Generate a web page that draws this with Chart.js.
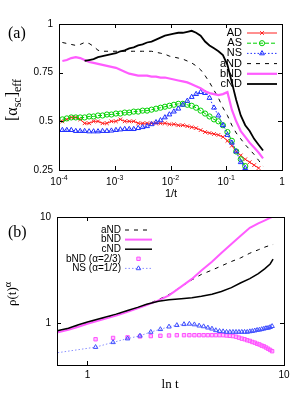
<!DOCTYPE html>
<html>
<head>
<meta charset="utf-8">
<script src="https://cdn.jsdelivr.net/npm/chart.js@4.4.0/dist/chart.umd.min.js"></script>
<style>
  html, body { margin: 0; padding: 0; background: #fff; }
  #wrap { position: relative; width: 301px; height: 399px; }
  #ca { position: absolute; left: 0; top: 0; }
  #cb { position: absolute; left: 0; top: 200px; }
</style>
</head>
<body>
<div id="wrap">
  <canvas id="ca" width="301" height="200" style="width:301px;height:200px"></canvas>
  <canvas id="cb" width="301" height="199" style="width:301px;height:199px"></canvas>
</div>
<script>
// ---- panel (a): effective exponent vs 1/t ----
const invT = [1.15e-4, 1.38e-4, 1.66e-4, 2.00e-4, 2.40e-4, 2.88e-4, 3.47e-4, 4.17e-4, 5.01e-4, 6.03e-4,
  7.24e-4, 8.71e-4, 1.05e-3, 1.26e-3, 1.51e-3, 1.82e-3, 2.19e-3, 2.63e-3, 3.16e-3, 3.80e-3,
  4.57e-3, 5.50e-3, 6.61e-3, 7.94e-3, 9.55e-3, 1.15e-2, 1.38e-2, 1.66e-2, 2.00e-2, 2.40e-2,
  2.88e-2, 3.47e-2, 4.17e-2, 5.01e-2, 6.03e-2, 7.24e-2, 8.71e-2, 0.105, 0.126, 0.151,
  0.182, 0.219, 0.263, 0.316, 0.380, 0.457];
const AD = [0.50, 0.51, 0.52, 0.52, 0.51, 0.49, 0.49, 0.50, 0.50, 0.49, 0.49, 0.50,
  0.50, 0.51, 0.50, 0.50, 0.50, 0.49, 0.49, 0.49, 0.49, 0.49, 0.49, 0.49,
  0.485, 0.485, 0.48, 0.48, 0.475, 0.47, 0.465, 0.455, 0.445, 0.44, 0.435, 0.43,
  0.42, 0.40, 0.375, 0.345, 0.325, 0.305, 0.29, 0.275, 0.26, null];
const AS = [0.51, 0.515, 0.52, 0.52, 0.52, 0.52, 0.525, 0.525, 0.53, 0.53, 0.535, 0.535,
  0.54, 0.54, 0.545, 0.545, 0.55, 0.55, 0.555, 0.555, 0.56, 0.565, 0.57, 0.575,
  0.58, 0.585, 0.59, 0.59, 0.585, 0.58, 0.57, 0.555, 0.54, 0.525, 0.51, 0.50,
  0.48, 0.445, 0.40, 0.345, 0.305, 0.27, null, null, null, null];
const NS = [0.455, 0.455, 0.455, 0.45, 0.45, 0.45, 0.448, 0.448, 0.448, 0.45, 0.45, 0.452,
  0.455, 0.458, 0.46, 0.46, 0.46, 0.465, 0.47, 0.475, 0.485, 0.495, 0.505, 0.52,
  0.535, 0.55, 0.565, 0.585, 0.605, 0.625, 0.64, 0.65, 0.645, 0.62, 0.57, 0.53,
  0.48, 0.43, 0.39, 0.345, 0.29, 0.26, null, null, null, null];
const aND = [0.905, 0.90, 0.895, 0.89, 0.895, 0.905, 0.90, 0.885, 0.865, 0.86, 0.86, 0.86,
  0.86, 0.86, 0.86, 0.86, 0.86, 0.86, 0.86, 0.86, 0.86, 0.855, 0.85, 0.845,
  0.835, 0.83, 0.825, 0.82, 0.81, 0.80, 0.785, 0.765, 0.735, 0.70, 0.66, 0.62,
  0.57, 0.53, 0.48, 0.44, 0.41, 0.38, 0.355, 0.33, 0.30, 0.27];
const bND = [0.81, 0.815, 0.825, 0.83, 0.825, 0.815, 0.805, 0.80, 0.795, 0.79, 0.785, 0.78,
  0.775, 0.765, 0.755, 0.745, 0.74, 0.735, 0.735, 0.735, 0.73, 0.73, 0.725, 0.725,
  0.72, 0.715, 0.71, 0.705, 0.70, 0.69, 0.68, 0.67, 0.655, 0.645, 0.64, 0.635,
  0.64, 0.65, 0.56, 0.50, 0.45, 0.42, 0.39, 0.365, 0.34, 0.31];
const cND = [null, null, null, null, null, 0.81, 0.815, 0.82, 0.83, 0.835, 0.84, 0.845,
  0.85, 0.86, 0.865, 0.875, 0.88, 0.89, 0.895, 0.905, 0.91, 0.92, 0.93, 0.94,
  0.945, 0.95, 0.955, 0.955, 0.96, 0.965, 0.955, 0.94, 0.91, 0.89, 0.875, 0.86,
  0.84, 0.79, 0.70, 0.61, 0.53, 0.48, 0.45, 0.41, 0.38, 0.35];
const xTicksA = [1e-4, 1e-3, 1e-2, 1e-1, 1];
const xLabelsA = ['10^-4', '10^-3', '10^-2', '10^-1', '1'];
const yTicksA = [0.25, 0.5, 0.75, 1];
const yLabelsA = ['0.25', '0.5', '0.75', '1'];

// ---- panel (b): rho(t)^alpha vs ln t ----
const lnT = [0.7, 0.8, 0.9, 1.0, 1.2, 1.4, 1.6, 1.8, 2.0, 2.3, 2.6, 3.0, 3.4, 3.8, 4.3, 4.8,
  5.4, 6.0, 6.7, 7.4, 8.0, 8.5, 8.8];
const rhoA = [0.82, 0.87, 0.93, 0.99, 1.10, 1.20, 1.29, 1.39, 1.49, 1.66, 1.85, 2.20, 2.55, 2.87, 3.15, 3.45,
  3.80, 4.10, 4.55, 4.90, 5.20, 5.40, 5.50];
const rhoB = [0.81, 0.86, 0.92, 0.98, 1.08, 1.17, 1.27, 1.37, 1.47, 1.63, 1.82, 2.20, 2.60, 3.12, 3.78, 4.57,
  5.55, 6.60, 7.90, 8.70, 9.30, 9.80, 10.1];
const rhoC = [0.84, 0.89, 0.96, 1.02, 1.12, 1.21, 1.31, 1.40, 1.50, 1.60, 1.65, 1.69, 1.73, 1.78, 1.86, 1.98,
  2.15, 2.38, 2.62, 2.92, 3.25, 3.60, 4.00];
const lnTm = [0.6, 1.1, 1.35, 1.6, 1.85, 2.1, 2.35, 2.6, 2.85, 3.1, 3.3, 3.5, 3.7, 3.9, 4.1, 4.3, 4.5,
  4.7, 4.9, 5.1, 5.3, 5.5, 5.7, 5.9, 6.1, 6.3, 6.5, 6.7, 6.9, 7.1, 7.3, 7.5, 7.7, 7.9, 8.1, 8.3, 8.5, 8.7];
const rhoBm = [null, 0.70, 0.72, 0.73, 0.745, 0.75, 0.755, 0.76, 0.765, 0.765, 0.765, 0.765, 0.765, 0.765, 0.765, 0.765, 0.765,
  0.765, 0.765, 0.76, 0.755, 0.75, 0.74, 0.725, 0.71, 0.70, 0.685, 0.675, 0.66, 0.65, 0.635, 0.625, 0.61, 0.60, 0.585, 0.57, 0.555, 0.54];
const rhoNm = [0.50, 0.59, 0.655, 0.71, 0.755, 0.82, 0.87, 0.92, 0.95, 0.97, 0.978, 0.965, 0.94, 0.925, 0.90, 0.88, 0.85,
  0.835, 0.83, 0.82, 0.82, 0.82, 0.82, 0.82, 0.82, 0.82, 0.82, 0.83, 0.835, 0.845, 0.855, 0.86, 0.87, 0.88, 0.89, 0.895, 0.91, 0.93];
const xTicksB = [1, 10];
const xLabelsB = ['1', '10'];
const yTicksB = [1, 10];
const yLabelsB = ['1', '10'];

const SANS = '"Liberation Sans", Arial, sans-serif';
const SERIF = '"Liberation Serif", "Times New Roman", serif';

function pts(xs, ys) {
  return xs.map((x, i) => ({ x: x, y: ys[i] })).filter(p => p.y !== null);
}

function labelSup(ctx, label, x, y, align) {
  const parts = label.split('^');
  ctx.font = '10px ' + SANS;
  const wb = ctx.measureText(parts[0]).width;
  let we = 0;
  if (parts[1]) { ctx.font = '7px ' + SANS; we = ctx.measureText(parts[1]).width; }
  const x0 = align === 'right' ? x - wb - we : x - (wb + we) / 2;
  ctx.textAlign = 'left';
  ctx.textBaseline = 'middle';
  ctx.font = '10px ' + SANS;
  ctx.fillText(parts[0], x0, y);
  if (parts[1]) { ctx.font = '7px ' + SANS; ctx.fillText(parts[1], x0 + wb, y - 4); }
}

function vtext(ctx, parts, cx, cy) {
  ctx.save();
  ctx.translate(cx, cy);
  ctx.rotate(-Math.PI / 2);
  ctx.textAlign = 'left';
  ctx.textBaseline = 'alphabetic';
  let w = 0;
  parts.forEach(p => { ctx.font = p.f; p.w = ctx.measureText(p.t).width; w += p.w; });
  let x = -w / 2;
  parts.forEach(p => { ctx.font = p.f; ctx.fillText(p.t, x, p.dy); x += p.w; });
  ctx.restore();
}

function decor(cfg) {
  return {
    id: 'decor',
    afterDatasetsDraw(chart) {
      const ctx = chart.ctx, a = chart.chartArea, sx = chart.scales.x, sy = chart.scales.y;
      ctx.save();
      ctx.fillStyle = '#000';
      ctx.strokeStyle = '#000';
      ctx.lineWidth = 1;
      ctx.setLineDash([]);
      ctx.strokeRect(Math.round(a.left) + 0.5, Math.round(a.top) + 0.5,
        Math.round(a.right - a.left), Math.round(a.bottom - a.top));
      ctx.beginPath();
      cfg.xTicks.forEach(v => {
        const p = Math.round(sx.getPixelForValue(v)) + 0.5;
        ctx.moveTo(p, a.bottom); ctx.lineTo(p, a.bottom - 4);
        ctx.moveTo(p, a.top); ctx.lineTo(p, a.top + 4);
      });
      cfg.yTicks.forEach(v => {
        const p = Math.round(sy.getPixelForValue(v)) + 0.5;
        ctx.moveTo(a.left, p); ctx.lineTo(a.left + 4, p);
        ctx.moveTo(a.right, p); ctx.lineTo(a.right - 4, p);
      });
      ctx.stroke();
      cfg.xTicks.forEach((v, i) => labelSup(ctx, cfg.xLabels[i], sx.getPixelForValue(v), a.bottom + cfg.xLabOff, 'center'));
      cfg.yTicks.forEach((v, i) => labelSup(ctx, cfg.yLabels[i], a.left - 6, sy.getPixelForValue(v), 'right'));

      // legend
      const L = cfg.legend;
      chart.data.datasets.forEach((ds, i) => {
        const y = L.y0 + i * L.dy;
        ctx.font = L.font;
        ctx.fillStyle = '#000';
        ctx.textAlign = 'right';
        ctx.textBaseline = 'middle';
        ctx.fillText(ds.label, L.textRight, y);
        if (ds.showLine !== false) {
          ctx.strokeStyle = ds.borderColor;
          ctx.lineWidth = ds.borderWidth;
          ctx.setLineDash(ds.borderDash || []);
          ctx.beginPath();
          ctx.moveTo(L.lineL, y); ctx.lineTo(L.lineR, y);
          ctx.stroke();
          ctx.setLineDash([]);
        }
        if (ds.pointRadius > 0) {
          ctx.strokeStyle = ds.pointBorderColor || ds.borderColor;
          ctx.fillStyle = ds.pointBackgroundColor || 'rgba(0,0,0,0)';
          ctx.lineWidth = ds.pointBorderWidth || 1;
          Chart.helpers.drawPoint(ctx, { pointStyle: ds.pointStyle, radius: ds.pointRadius, borderWidth: ds.pointBorderWidth || 1, rotation: 0 },
            (L.lineL + L.lineR) / 2, y);
        }
      });

      // titles
      ctx.fillStyle = '#000';
      cfg.texts.forEach(t => {
        ctx.font = t.f;
        ctx.textAlign = t.align || 'center';
        ctx.textBaseline = 'alphabetic';
        ctx.fillText(t.t, t.x, t.y);
      });
      if (cfg.vtitle) vtext(ctx, cfg.vtitle.parts, cfg.vtitle.x, cfg.vtitle.y);
      ctx.restore();
    }
  };
}

function lineSet(label, xs, ys, o) {
  return Object.assign({
    label: label, data: pts(xs, ys), borderColor: '#000', borderWidth: 1,
    pointRadius: 0, tension: 0, fill: false, spanGaps: false
  }, o);
}

const fixedAxes = (xType, xMin, xMax, yType, yMin, yMax, yW, xH) => ({
  x: { type: xType, min: xMin, max: xMax, ticks: { display: false }, grid: { display: false }, border: { display: false },
       afterFit: s => { s.height = xH; } },
  y: { type: yType, min: yMin, max: yMax, ticks: { display: false }, grid: { display: false }, border: { display: false },
       afterFit: s => { s.width = yW; } }
});

const RED = '#ff2020', GREEN = '#00d000', BLUE = '#2030ff', MAG = '#ff5cff';

new Chart(document.getElementById('ca').getContext('2d'), {
  type: 'line',
  data: {
    datasets: [
      lineSet('AD', invT, AD, { borderColor: RED, pointStyle: 'crossRot', pointRadius: 2.6, pointBorderWidth: 1, order: 6 }),
      lineSet('AS', invT, AS, { borderColor: GREEN, borderDash: [4, 2], pointStyle: 'circle', pointRadius: 2.6,
        pointBorderWidth: 1, pointBackgroundColor: 'rgba(0,0,0,0)', order: 5 }),
      lineSet('NS', invT, NS, { borderColor: BLUE, borderDash: [1.5, 2], pointStyle: 'triangle', pointRadius: 2.8,
        pointBorderWidth: 1, pointBackgroundColor: 'rgba(0,0,0,0)', order: 4 }),
      lineSet('aND', invT, aND, { borderColor: '#000', borderDash: [4, 5], order: 3 }),
      lineSet('bND', invT, bND, { borderColor: MAG, borderWidth: 2.2, order: 2 }),
      lineSet('cND', invT, cND, { borderColor: '#000', borderWidth: 1.8, order: 1 })
    ]
  },
  options: {
    responsive: false, animation: false, devicePixelRatio: 1,
    layout: { padding: { left: 0, top: 24, right: 19, bottom: 0 } },
    plugins: { legend: { display: false }, tooltip: { enabled: false } },
    scales: fixedAxes('logarithmic', 1e-4, 1, 'linear', 0.25, 1, 59, 30)
  },
  plugins: [decor({
    xTicks: xTicksA, xLabels: xLabelsA, yTicks: yTicksA, yLabels: yLabelsA, xLabOff: 12,
    legend: { textRight: 242, lineL: 247, lineR: 277, y0: 33, dy: 10.2, font: '11px ' + SANS },
    texts: [
      { t: '(a)', x: 8, y: 38, f: '16px ' + SERIF, align: 'left' },
      { t: '1/t', x: 171, y: 197, f: '11px ' + SANS }
    ],
    vtitle: { x: 17, y: 100, parts: [
      { t: '[α', f: '16px ' + SERIF, dy: 0 },
      { t: 'sc', f: '12px ' + SERIF, dy: 3.5 },
      { t: ']', f: '16px ' + SERIF, dy: 0 },
      { t: 'eff', f: '12px ' + SERIF, dy: 3.5 }
    ] }
  })]
});

new Chart(document.getElementById('cb').getContext('2d'), {
  type: 'line',
  data: {
    datasets: [
      lineSet('aND', lnT, rhoA, { borderColor: '#000', borderDash: [4, 5], order: 5 }),
      lineSet('bND', lnT, rhoB, { borderColor: MAG, borderWidth: 2, order: 4 }),
      lineSet('cND', lnT, rhoC, { borderColor: '#000', borderWidth: 1.5, order: 3 }),
      lineSet('bND (α=2/3)', lnTm, rhoBm, { borderColor: MAG, showLine: false, pointStyle: 'rect', pointRadius: 2.4,
        pointBorderWidth: 1, pointBorderColor: '#ff50ff', pointBackgroundColor: 'rgba(255,120,255,0.45)', order: 2 }),
      lineSet('NS (α=1/2)', lnTm, rhoNm, { borderColor: '#8a90ff', borderDash: [1.5, 2], pointStyle: 'triangle', pointRadius: 2.6,
        pointBorderWidth: 1, pointBorderColor: '#4050ff', pointBackgroundColor: 'rgba(0,0,0,0)', order: 1 })
    ]
  },
  options: {
    responsive: false, animation: false, devicePixelRatio: 1,
    layout: { padding: { left: 0, top: 17, right: 17, bottom: 0 } },
    plugins: { legend: { display: false }, tooltip: { enabled: false } },
    scales: fixedAxes('logarithmic', 0.704, 10, 'logarithmic', 0.4, 10, 57, 34)
  },
  plugins: [decor({
    xTicks: xTicksB, xLabels: xLabelsB, yTicks: yTicksB, yLabels: yLabelsB, xLabOff: 10,
    legend: { textRight: 121, lineL: 125, lineR: 152, y0: 30, dy: 9.6, font: '10px ' + SANS },
    texts: [
      { t: '(b)', x: 8, y: 37, f: '16px ' + SERIF, align: 'left' },
      { t: 'ln t', x: 170, y: 188, f: '13px ' + SERIF }
    ],
    vtitle: { x: 16, y: 94, parts: [
      { t: 'ρ(t)', f: '13px ' + SERIF, dy: 0 },
      { t: 'α', f: '10px ' + SERIF, dy: -5 }
    ] }
  })]
});
</script>
</body>
</html>
